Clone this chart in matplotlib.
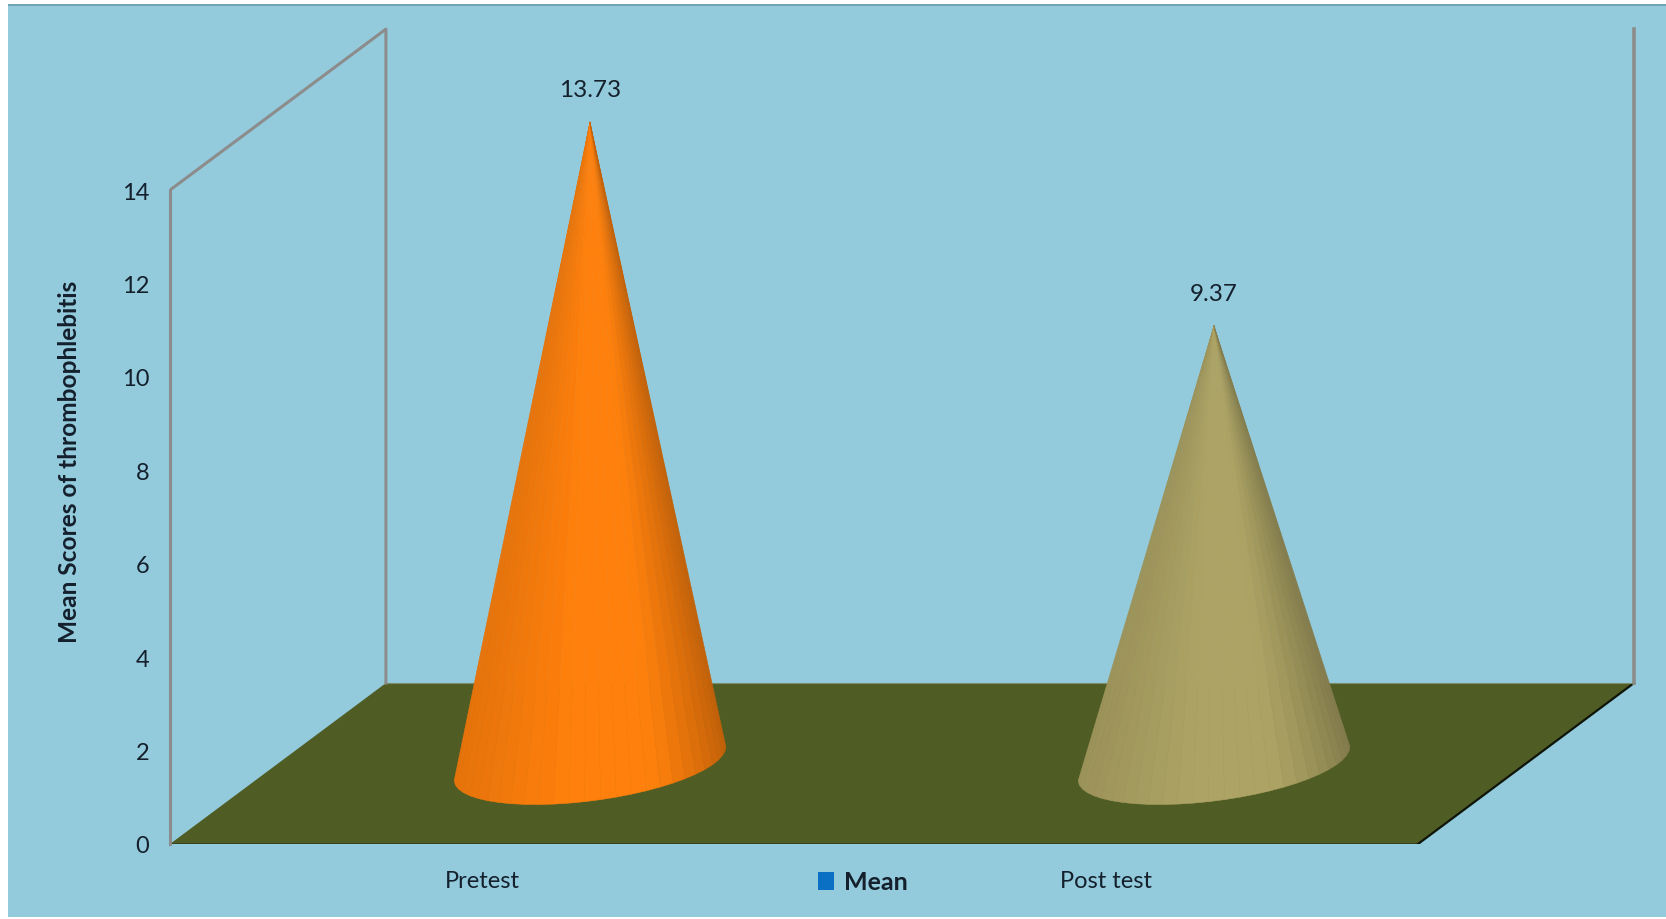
import numpy as np
import matplotlib
matplotlib.use('Agg')
import matplotlib.pyplot as plt
from matplotlib.collections import PolyCollection
from matplotlib.colors import to_rgb
from matplotlib.patches import Patch, Polygon, Rectangle

categories = ['Pretest', 'Post test']
means = [13.73, 9.37]
cone_colors = ['#FF800C', '#ADA364']
y_ticks = [0, 2, 4, 6, 8, 10, 12, 14]

W, H = 1666, 920
BG = '#93CBDD'
FLOOR = '#4F5D25'
WALL = '#8C8C8C'
TEXT = '#14202C'

# oblique projection of the depth axis, in data units
DEPTH_X = 0.346
DEPTH_Y = 3.445
RADIUS = 0.199      # cone base radius along x
BASE_DEPTH = 0.2547  # base half depth, as a share of the floor depth

plt.rcParams['font.family'] = ['Lato', 'DejaVu Sans']

fig = plt.figure(figsize=(W / 100, H / 100), dpi=100, facecolor='white')
fig.add_artist(Rectangle((8 / W, 1 - 918 / H), (W - 8) / W, 912 / H, transform=fig.transFigure,
                         facecolor=BG, edgecolor='none', zorder=-5))
fig.add_artist(Rectangle((8 / W, 1 - 6.5 / H), (W - 8) / W, 1.5 / H, transform=fig.transFigure,
                         facecolor='#6FA3B5', edgecolor='none', zorder=-4))

# the axes start at the front-left floor corner and run to the page edge
ax = fig.add_axes([170 / W, 1 - 845 / H, (W - 170) / W, 845 / H])
ax.set_facecolor('none')
ax.set_xlim(0, (W - 170) / 624)
ax.set_ylim(0, 845 / 46.71)
for side in ['top', 'right', 'bottom']:
    ax.spines[side].set_visible(False)
ax.spines['left'].set_bounds(0, y_ticks[-1])
ax.spines['left'].set_color(WALL)
ax.spines['left'].set_linewidth(2.2)

x_end = len(categories)
y_top = y_ticks[-1]

# floor
ax.add_patch(Polygon([(0, 0), (x_end, 0), (x_end + DEPTH_X, DEPTH_Y), (DEPTH_X, DEPTH_Y)],
                     facecolor=FLOOR, edgecolor='none', zorder=1))
ax.plot([0, x_end], [0, 0], color='#2E3A1B', lw=1.8, zorder=2, solid_capstyle='butt')
ax.plot([x_end, x_end + DEPTH_X], [0, DEPTH_Y], color='#10150A', lw=1.6, zorder=2)

# side wall and back wall edges
ax.plot([0, DEPTH_X, DEPTH_X], [y_top, y_top + DEPTH_Y, DEPTH_Y], color=WALL, lw=2.2, zorder=2)
ax.plot([x_end + DEPTH_X, x_end + DEPTH_X], [DEPTH_Y, y_top + DEPTH_Y], color=WALL, lw=2.6, zorder=2)
ax.plot([DEPTH_X, x_end + DEPTH_X], [DEPTH_Y, DEPTH_Y], color='#7E8A6A', lw=0.8, zorder=2)


def shade(u):
    # darken towards the silhouette, more so on the right-hand side
    left = 1 - 0.10 * np.clip((-u - 0.15) / 0.85, 0, 1)
    right = 1 - 0.24 * np.clip((u - 0.4) / 0.6, 0, 1) ** 1.5
    return left * right


def draw_cone(center, value, color):
    cx = center + DEPTH_X / 2
    cy = DEPTH_Y / 2
    tip = (cx, cy + value)
    # visible arc of the base, from the back round through the front
    t = np.linspace(np.radians(205), np.radians(385), 28)
    bx = cx + RADIUS * np.cos(t) + BASE_DEPTH * DEPTH_X * np.sin(t)
    by = cy + BASE_DEPTH * DEPTH_Y * np.sin(t)
    reach = np.hypot(RADIUS, BASE_DEPTH * DEPTH_X)
    polys, cols = [], []
    base = np.array(to_rgb(color))
    for i in range(len(t) - 1):
        polys.append([tip, (bx[i], by[i]), (bx[i + 1], by[i + 1])])
        u = ((bx[i] + bx[i + 1]) / 2 - cx) / reach
        cols.append(tuple(base * shade(u)))
    ax.add_collection(PolyCollection(polys, facecolors=cols, edgecolors=cols, linewidths=0.4, zorder=3))
    ax.annotate(f'{value:.2f}', xy=tip, xytext=(0, 16), textcoords='offset points',
                ha='center', va='bottom', fontsize=17.5, color=TEXT, zorder=4)


for i, (value, color) in enumerate(zip(means, cone_colors)):
    draw_cone(i + 0.5, value, color)

ax.set_yticks(y_ticks)
ax.set_xticks([i + 0.5 for i in range(len(categories))])
ax.set_xticklabels(categories)
ax.tick_params(axis='y', length=0, pad=15, labelsize=17, labelcolor=TEXT)
ax.tick_params(axis='x', length=0, pad=19, labelsize=17, labelcolor=TEXT)

fig.text(70 / W, 1 - 462 / H, 'Mean Scores of thrombophlebitis', rotation=90, ha='center', va='center',
         fontsize=17.6, fontweight='bold', color=TEXT)

fig.legend(handles=[Patch(facecolor='#0A70C4', edgecolor='none', label='Mean')],
           loc='center', bbox_to_anchor=(863 / W, 1 - 883 / H), bbox_transform=fig.transFigure,
           frameon=False, handlelength=0.62, handleheight=0.7, handletextpad=0.4,
           borderpad=0, prop={'size': 18, 'weight': 'bold'}, labelcolor=TEXT)

fig.savefig('out.png', dpi=100)
